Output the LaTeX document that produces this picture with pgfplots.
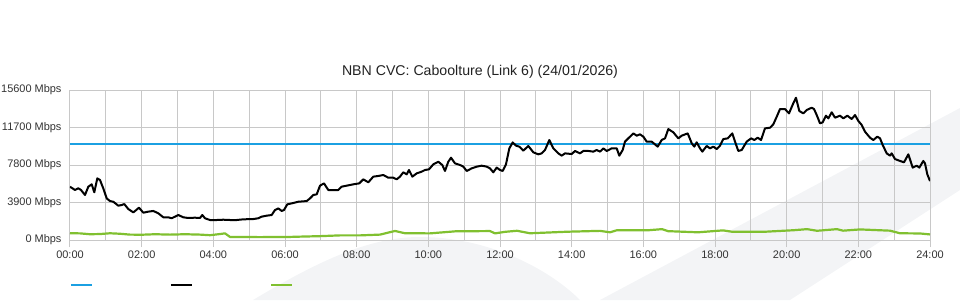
\documentclass[border=0pt]{standalone}
\usepackage{pgfplots}
\pgfplotsset{compat=1.18}
\usepackage{fontspec}
\setmainfont{Liberation Sans}
\definecolor{cblue}{RGB}{27,160,226}
\definecolor{cgreen}{RGB}{128,192,48}
\definecolor{gridc}{RGB}{200,200,200}
\definecolor{txt}{RGB}{51,51,51}
\definecolor{wm}{RGB}{243,244,246}
\begin{document}
\begin{tikzpicture}[x=1bp,y=1bp]
\path[use as bounding box] (-70,-60) rectangle (890,240);
% faint background watermark (image px -> (px-70, 240-py))
\fill[wm] (530,-60) -- (890,132) -- (890,50) -- (720,-60) -- cycle;
\fill[wm] (183,-60) .. controls (250,-20) and (300,3) .. (350,3) .. controls (420,3) and (480,-30) .. (510,-60) -- cycle;
\begin{axis}[
  name=ax, at={(0,0)}, anchor=south west,
  scale only axis, width=860bp, height=150bp,
  xmin=0, xmax=24, ymin=0, ymax=15600,
  scaled y ticks=false,
  xtick={0,2,4,6,8,10,12,14,16,18,20,22,24},
  xticklabels={00:00,02:00,04:00,06:00,08:00,10:00,12:00,14:00,16:00,18:00,20:00,22:00,24:00},
  minor xtick={1,3,5,7,9,11,13,15,17,19,21,23},
  ytick={0,3900,7800,11700,15600},
  yticklabels={0 Mbps,3900 Mbps,7800 Mbps,11700 Mbps,15600 Mbps},
  grid=both,
  major grid style={gridc, line width=1bp},
  minor grid style={gridc, line width=1bp},
  axis line style={gridc, line width=1bp},
  tick align=outside, tick pos=left,
  major tick length=7bp, minor tick length=0pt,
  xtick style={gridc, line width=1bp},
  ytick style={draw=none},
  tick label style={font=\fontsize{11}{13}\selectfont, text=txt},
  yticklabel style={xshift=2bp},
  title={NBN CVC: Caboolture (Link 6) (24/01/2026)},
  title style={font=\fontsize{14.2}{17}\selectfont, text={rgb,255:red,34;green,34;blue,34}, at={(axis description cs:0.5,1)}, anchor=base, xshift=-20bp, yshift=9bp},
  legend columns=3,
  legend style={at={(axis description cs:0,-0.3)}, anchor=west, draw=none, fill=none, inner sep=0pt, outer sep=0pt, nodes={inner sep=0pt}, column sep=0pt, /tikz/every even column/.append style={column sep=76bp}},
  legend image code/.code={\draw[#1] (0bp,0bp) -- (21bp,0bp);},
]
\addplot[cblue, line width=2bp] coordinates {(0,10000) (24,10000)};
\addlegendentry{}
\addplot[black, line width=2bp, line join=round] coordinates {
(0,5540) (0.140,5200) (0.232,5380) (0.307,5200) (0.419,4680) (0.511,5540) (0.606,5790) (0.678,4960) (0.762,6410) (0.837,6240) (0.929,5370)
(1.024,4330) (1.116,4050) (1.208,3980) (1.348,3570) (1.443,3640) (1.515,3740) (1.627,3220) (1.767,2870) (1.926,3360)
(2.046,2840) (2.185,2950) (2.325,3020) (2.464,2780) (2.604,2360) (2.743,2360) (2.838,2260) (2.930,2430)
(3.022,2600) (3.162,2360) (3.301,2290) (3.488,2320) (3.628,2290) (3.692,2600) (3.767,2260) (3.907,2080)
(4.094,2080) (4.278,2110) (4.465,2080) (4.652,2080) (4.836,2150)
(5.115,2180) (5.255,2260) (5.350,2430) (5.489,2530) (5.629,2600) (5.721,3120) (5.813,3290) (5.908,3020) (5.972,3120)
(6.064,3710) (6.187,3810) (6.371,3980) (6.606,4050) (6.698,4330) (6.790,4680) (6.885,4750) (6.977,5650)
(7.088,5890) (7.208,5200) (7.348,5200) (7.487,5200) (7.582,5550) (7.722,5650) (7.906,5790)
(8.073,5890) (8.185,6310) (8.325,6000) (8.464,6590) (8.604,6660) (8.743,6760) (8.883,6480)
(9.022,6480) (9.117,6310) (9.209,6590) (9.301,7040) (9.396,6830) (9.460,7280) (9.553,6590) (9.675,6930) (9.815,7110) (9.907,7280)
(10.019,7350) (10.139,7870) (10.278,8140) (10.390,7800) (10.465,7180) (10.557,8140) (10.633,8560) (10.744,7970) (10.884,7800) (10.976,7630)
(11.071,7180) (11.210,7450) (11.350,7630) (11.489,7730) (11.629,7630) (11.721,7450) (11.813,7040) (11.908,7530)
(12.000,7280) (12.075,7180) (12.167,7870) (12.260,9530) (12.355,10150) (12.447,9810) (12.539,9710) (12.651,9290) (12.790,9780) (12.930,9120)
(13.069,8910) (13.164,9010) (13.256,9360) (13.376,10400) (13.488,9530) (13.627,9010) (13.722,8770) (13.814,9010)
(14.001,8940) (14.093,9260) (14.233,9010) (14.325,9260) (14.464,9260) (14.604,9190) (14.699,9360) (14.791,9190) (14.883,9530) (14.978,9260)
(15.117,9530) (15.257,9530) (15.329,8770) (15.424,9360) (15.488,10230) (15.580,10570) (15.720,11090) (15.815,10850) (15.907,10990) (15.999,10750)
(16.094,10230) (16.233,10230) (16.401,9710) (16.512,10400) (16.605,10570) (16.697,11540) (16.836,11200) (16.976,10570)
(17.071,10850) (17.238,11090) (17.350,10060) (17.422,9710) (17.489,10160) (17.581,9530) (17.646,9190) (17.768,9780) (17.860,9530) (17.953,9710)
(18.047,9460) (18.140,9810) (18.232,10500) (18.355,10570) (18.483,11090) (18.558,10230) (18.650,9260) (18.745,9360) (18.885,10230)
(19.005,10570) (19.097,10400) (19.192,10640) (19.284,10400) (19.395,11610) (19.535,11680) (19.627,12030) (19.722,12820) (19.814,13620) (19.953,13620)
(20.065,13170) (20.185,14220) (20.260,14800) (20.352,13420) (20.464,13170) (20.559,13520) (20.698,13760) (20.763,13620) (20.838,13000) (20.930,12130)
(21.005,12240) (21.098,12930) (21.162,12650) (21.257,13280) (21.349,12720) (21.488,12930) (21.581,12650) (21.693,12930) (21.815,12580) (21.907,13000)
(22.000,12380) (22.095,11960) (22.187,11260) (22.326,10640) (22.418,10400) (22.530,10750) (22.605,10570) (22.680,9880) (22.792,9010) (22.884,8770) (22.931,9010)
(23.023,8420) (23.163,8220) (23.275,8080) (23.395,8910) (23.517,7530) (23.629,7730) (23.702,7530) (23.813,8220) (23.860,7970) (23.925,6830) (24,6130)
};
\addlegendentry{}
\addplot[cgreen, line width=2.2bp, line join=round] coordinates {
(0,700) (0.279,690) (0.558,600) (0.837,620) (1.116,700) (1.395,650) (1.674,560) (2.009,550) (2.372,600) (2.791,560)
(3.209,600) (3.628,560) (3.907,500) (4.186,620) (4.326,690) (4.465,320) (5.302,300) (6.140,320) (6.419,350) (6.977,400)
(7.535,480) (8.093,480) (8.651,560) (9.070,940) (9.349,700) (10.047,690) (10.744,900) (11.721,930) (11.860,690) (12.140,850)
(12.474,960) (12.837,700) (13.870,860) (14.791,950) (15.070,800) (15.265,1020) (16.158,1020) (16.521,1130) (16.688,920)
(17.526,800) (18.223,1000) (18.474,860) (19.395,860) (20.205,1020) (20.567,1130) (20.847,960) (21.405,1130) (21.572,970)
(22.047,1100) (22.884,970) (23.163,700) (23.721,680) (24,580)
};
\addlegendentry{}
\end{axis}
\end{tikzpicture}
\end{document}
